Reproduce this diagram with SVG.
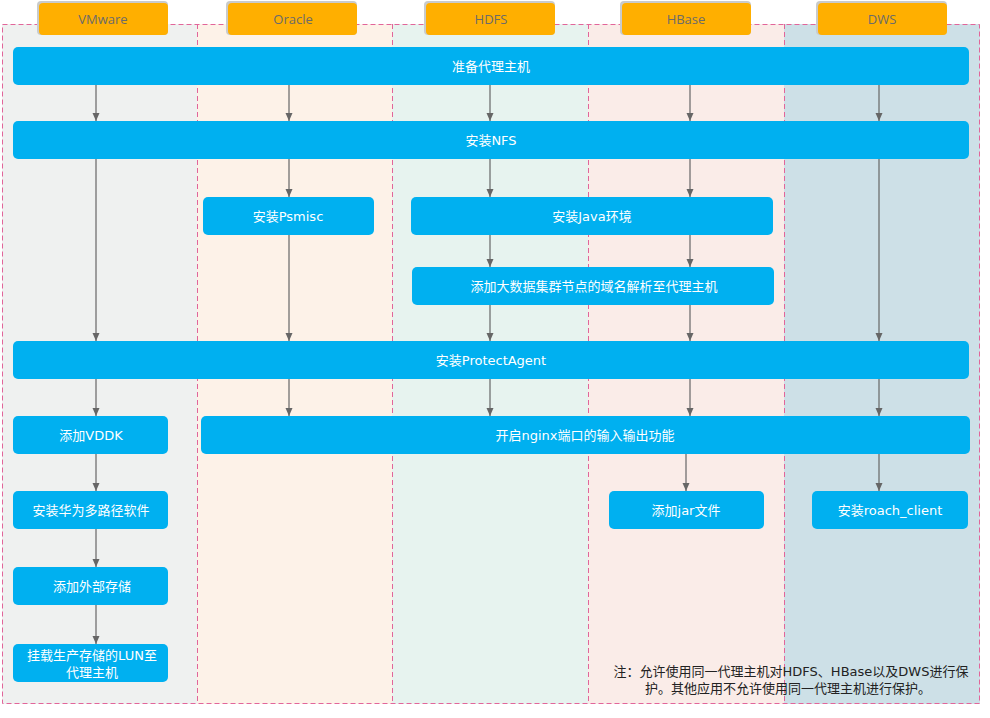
<svg xmlns="http://www.w3.org/2000/svg" width="990" height="718" viewBox="0 0 990 718">
<style>
.lane{stroke:#E2659A;stroke-width:1;stroke-dasharray:5,3}
.hdr{fill:#FFAF00}
.hsh{fill:#C9CBCC}
.hdrt{font-family:"Open Sans","Noto Sans",sans-serif;font-size:13px;fill:#6B6B6B;text-anchor:middle}
.box{fill:#00B0F0}
.bt{font-family:"DejaVu Sans","Noto Sans CJK SC",sans-serif;font-size:13px;fill:#FFFFFF;text-anchor:middle}
.note{font-family:"DejaVu Sans","Noto Sans CJK SC",sans-serif;font-size:13px;fill:#222222;text-anchor:middle}
.c{stroke:#666666;stroke-width:1.2;fill:none;marker-end:url(#ah)}
</style>
<defs>
<marker id="ah" viewBox="0 0 8 8" refX="8" refY="4" markerWidth="8" markerHeight="8" markerUnits="userSpaceOnUse" orient="auto">
<path d="M0,0.5 L8,4 L0,7.5 z" fill="#666666"/>
</marker>
</defs>
<rect width="990" height="718" fill="#FFFFFF"/>
<g id="lanes">
<rect x="2" y="24" width="195" height="680" fill="#EFF1F0"/>
<rect x="197" y="24" width="195" height="680" fill="#FDF2E8"/>
<rect x="392" y="24" width="196" height="680" fill="#E7F3EF"/>
<rect x="588" y="24" width="196" height="680" fill="#FAECE8"/>
<rect x="784" y="24" width="196" height="680" fill="#CDE0E7"/>
<rect class="lane" x="2.5" y="24.5" width="977" height="679" fill="none"/>
<line class="lane" x1="197.5" y1="24" x2="197.5" y2="704"/>
<line class="lane" x1="392.5" y1="24" x2="392.5" y2="704"/>
<line class="lane" x1="588.5" y1="24" x2="588.5" y2="704"/>
<line class="lane" x1="784.5" y1="24" x2="784.5" y2="704"/>
</g>
<g id="header-vmware">
<rect class="hsh" x="37" y="1" width="131" height="34" rx="4"/>
<rect class="hdr" x="39" y="3" width="129" height="32" rx="4"/>
<text class="hdrt" x="103" y="24">VMware</text>
</g>
<g id="header-oracle">
<rect class="hsh" x="226" y="1" width="131" height="34" rx="4"/>
<rect class="hdr" x="228" y="3" width="129" height="32" rx="4"/>
<text class="hdrt" x="293" y="24">Oracle</text>
</g>
<g id="header-hdfs">
<rect class="hsh" x="424" y="1" width="131" height="34" rx="4"/>
<rect class="hdr" x="426" y="3" width="129" height="32" rx="4"/>
<text class="hdrt" x="491" y="24">HDFS</text>
</g>
<g id="header-hbase">
<rect class="hsh" x="620" y="1" width="131" height="34" rx="4"/>
<rect class="hdr" x="622" y="3" width="129" height="32" rx="4"/>
<text class="hdrt" x="686" y="24">HBase</text>
</g>
<g id="header-dws">
<rect class="hsh" x="816" y="1" width="131" height="34" rx="4"/>
<rect class="hdr" x="818" y="3" width="129" height="32" rx="4"/>
<text class="hdrt" x="882" y="24">DWS</text>
</g>
<g id="connectors">
<path class="c" d="M96,85 V121"/>
<path class="c" d="M289,85 V121"/>
<path class="c" d="M490,85 V121"/>
<path class="c" d="M690,85 V121"/>
<path class="c" d="M879,85 V121"/>
<path class="c" d="M96,159 V341"/>
<path class="c" d="M289,159 V197"/>
<path class="c" d="M490,159 V197"/>
<path class="c" d="M690,159 V197"/>
<path class="c" d="M879,159 V341"/>
<path class="c" d="M289,235 V341"/>
<path class="c" d="M490,235 V267"/>
<path class="c" d="M690,235 V267"/>
<path class="c" d="M490,305 V341"/>
<path class="c" d="M690,305 V341"/>
<path class="c" d="M96,379 V416"/>
<path class="c" d="M289,379 V416"/>
<path class="c" d="M490,379 V416"/>
<path class="c" d="M690,379 V416"/>
<path class="c" d="M879,379 V416"/>
<path class="c" d="M96,454 V491"/>
<path class="c" d="M96,529 V567"/>
<path class="c" d="M96,605 V644"/>
<path class="c" d="M686,454 V491"/>
<path class="c" d="M879,454 V491"/>
</g>
<g id="n-prepare">
<rect class="box" x="13" y="47" width="956" height="38" rx="5"/>
<text class="bt" x="491" y="71">准备代理主机</text>
</g>
<g id="n-nfs">
<rect class="box" x="13" y="121" width="956" height="38" rx="5"/>
<text class="bt" x="491" y="145">安装NFS</text>
</g>
<g id="n-psmisc">
<rect class="box" x="203" y="197" width="171" height="38" rx="5"/>
<text class="bt" x="288" y="221">安装Psmisc</text>
</g>
<g id="n-java">
<rect class="box" x="411" y="197" width="362" height="38" rx="5"/>
<text class="bt" x="592" y="221">安装Java环境</text>
</g>
<g id="n-dns">
<rect class="box" x="412" y="267" width="362" height="38" rx="5"/>
<text class="bt" x="594" y="291">添加大数据集群节点的域名解析至代理主机</text>
</g>
<g id="n-agent">
<rect class="box" x="13" y="341" width="956" height="38" rx="5"/>
<text class="bt" x="491" y="365">安装ProtectAgent</text>
</g>
<g id="n-vddk">
<rect class="box" x="13" y="416" width="155" height="38" rx="5"/>
<text class="bt" x="91" y="440">添加VDDK</text>
</g>
<g id="n-nginx">
<rect class="box" x="201" y="416" width="769" height="38" rx="5"/>
<text class="bt" x="585" y="440">开启nginx端口的输入输出功能</text>
</g>
<g id="n-multipath">
<rect class="box" x="13" y="491" width="155" height="38" rx="5"/>
<text class="bt" x="91" y="515">安装华为多路径软件</text>
</g>
<g id="n-jar">
<rect class="box" x="609" y="491" width="155" height="38" rx="5"/>
<text class="bt" x="686" y="515">添加jar文件</text>
</g>
<g id="n-roach">
<rect class="box" x="812" y="491" width="156" height="38" rx="5"/>
<text class="bt" x="890" y="515">安装roach_client</text>
</g>
<g id="n-storage">
<rect class="box" x="13" y="567" width="155" height="38" rx="5"/>
<text class="bt" x="92" y="591">添加外部存储</text>
</g>
<g id="n-lun">
<rect class="box" x="13" y="644" width="155" height="38" rx="5"/>
<text class="bt" x="92" y="660">挂载生产存储的LUN至</text>
<text class="bt" x="92" y="677">代理主机</text>
</g>
<g id="note">
<text class="note" x="791" y="676">注：允许使用同一代理主机对HDFS、HBase以及DWS进行保</text>
<text class="note" x="788" y="693">护。其他应用不允许使用同一代理主机进行保护。</text>
</g>
</svg>
